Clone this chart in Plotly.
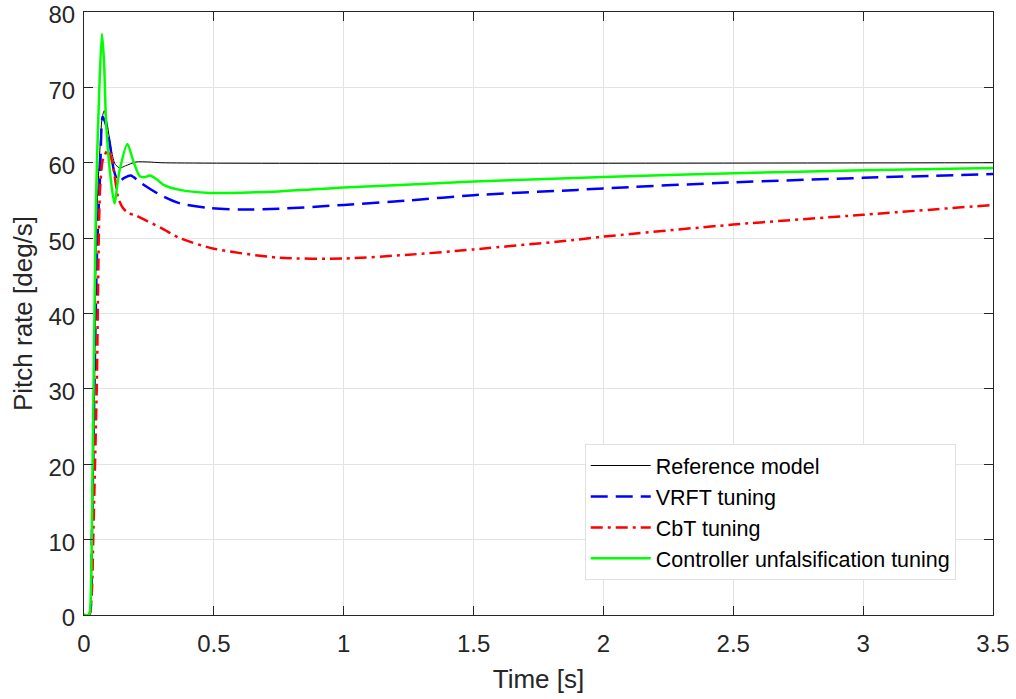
import plotly.graph_objects as go

# Reference model
t_ref = [0, 0.02, 0.03, 0.04, 0.049, 0.06, 0.07, 0.078, 0.09, 0.106, 0.12, 0.138, 0.16, 0.2, 0.25, 0.3, 3.5]
y_ref = [0, 0, 8, 28, 52.7, 61, 66, 66.9, 65, 61.5, 59.8, 59.3, 59.6, 60.1, 60.1, 60, 60]

# VRFT tuning
t_vrft = [0, 0.02, 0.03, 0.04, 0.05, 0.062, 0.072, 0.085, 0.1, 0.115, 0.132, 0.155, 0.18, 0.22, 0.29,
          0.37, 0.48, 0.6, 0.75, 1.0, 1.25, 1.5, 1.9, 2.0, 2.5, 3.0, 3.5]
y_vrft = [0, 0, 10, 30, 48, 58.4, 66.1, 65, 62.4, 59, 57.5, 58.0, 58.3, 57.3, 55.8,
          54.6, 54.0, 53.8, 53.9, 54.4, 55.0, 55.7, 56.4, 56.6, 57.4, 58.0, 58.5]

# CbT tuning
t_cbt = [0, 0.02, 0.03, 0.036, 0.049, 0.062, 0.074, 0.094, 0.113, 0.132, 0.15, 0.171, 0.2, 0.241, 0.3,
         0.369, 0.5, 0.75, 1.0, 1.25, 1.5, 1.9, 2.0, 2.5, 3.0, 3.5]
y_cbt = [0, 0, 3, 10.8, 30, 56.6, 60.6, 61.7, 59.3, 55.3, 54, 53.3, 53, 52.3, 51.3,
         50.0, 48.6, 47.4, 47.3, 47.8, 48.5, 49.8, 50.2, 51.8, 53.1, 54.4]

# Controller unfalsification tuning
t_cu = [0, 0.018, 0.023, 0.033, 0.046, 0.059, 0.069, 0.077, 0.085, 0.1, 0.117, 0.136, 0.167, 0.19, 0.215,
        0.235, 0.254, 0.28, 0.305, 0.369, 0.485, 0.55, 0.75, 1.0, 1.5, 2.0, 2.5, 3.0, 3.5]
y_cu = [0, 0, 0.5, 19.6, 54.9, 69.9, 77.1, 73.5, 65.4, 58.8, 54.6, 58.8, 62.5, 60.2, 58.2,
        58.1, 58.3, 57.8, 57.1, 56.4, 56.0, 56.0, 56.2, 56.7, 57.5, 58.1, 58.6, 59.0, 59.3]

x_ticks = [0, 0.5, 1, 1.5, 2, 2.5, 3, 3.5]
x_tick_labels = ["0", "0.5", "1", "1.5", "2", "2.5", "3", "3.5"]
y_ticks = [0, 10, 20, 30, 40, 50, 60, 70, 80]

fig = go.Figure()
fig.add_trace(go.Scatter(x=t_ref, y=y_ref, mode="lines", name="Reference model",
                         line=dict(color="black", width=1, shape="spline", smoothing=0.7)))
fig.add_trace(go.Scatter(x=t_vrft, y=y_vrft, mode="lines", name="VRFT tuning",
                         line=dict(color="#0000ff", width=2.5, dash="17px,8px", shape="spline", smoothing=0.7)))
fig.add_trace(go.Scatter(x=t_cbt, y=y_cbt, mode="lines", name="CbT tuning",
                         line=dict(color="#ff0000", width=2.5, dash="12px,5px,3px,5px", shape="spline", smoothing=0.7)))
fig.add_trace(go.Scatter(x=t_cu, y=y_cu, mode="lines", name="Controller unfalsification tuning",
                         line=dict(color="#00ff00", width=2.5, shape="spline", smoothing=0.7)))

axis_common = dict(
    showline=True, linecolor="#262626", linewidth=1, mirror="ticks",
    ticks="inside", ticklen=9, tickcolor="#262626",
    showgrid=True, gridcolor="#e3e3e3", gridwidth=1, zeroline=False,
    tickfont=dict(size=24, color="#262626"),
    ticklabeloverflow="allow", automargin=False,
)

fig.update_layout(
    width=1016, height=699,
    margin=dict(l=84, r=23, t=12, b=84),
    paper_bgcolor="white", plot_bgcolor="white",
    font=dict(family="Liberation Sans, Arial, sans-serif", color="#262626"),
    xaxis=dict(range=[0, 3.5], tickvals=x_ticks, ticktext=x_tick_labels, ticklabelstandoff=7,
               title=dict(text="Time [s]", font=dict(size=26), standoff=14), **axis_common),
    yaxis=dict(range=[0, 80], tickvals=y_ticks, ticklabelstandoff=3, ticklabelshift=3,
               title=dict(text="Pitch rate [deg/s]", font=dict(size=26), standoff=8), **axis_common),
    legend=dict(x=0.959, y=0.058, xanchor="right", yanchor="bottom",
                bgcolor="white", bordercolor="#e0e0e0", borderwidth=1,
                font=dict(size=21.5, color="black"), itemwidth=60,
                tracegroupgap=0),
    showlegend=True,
)

fig.write_html("out.html")
